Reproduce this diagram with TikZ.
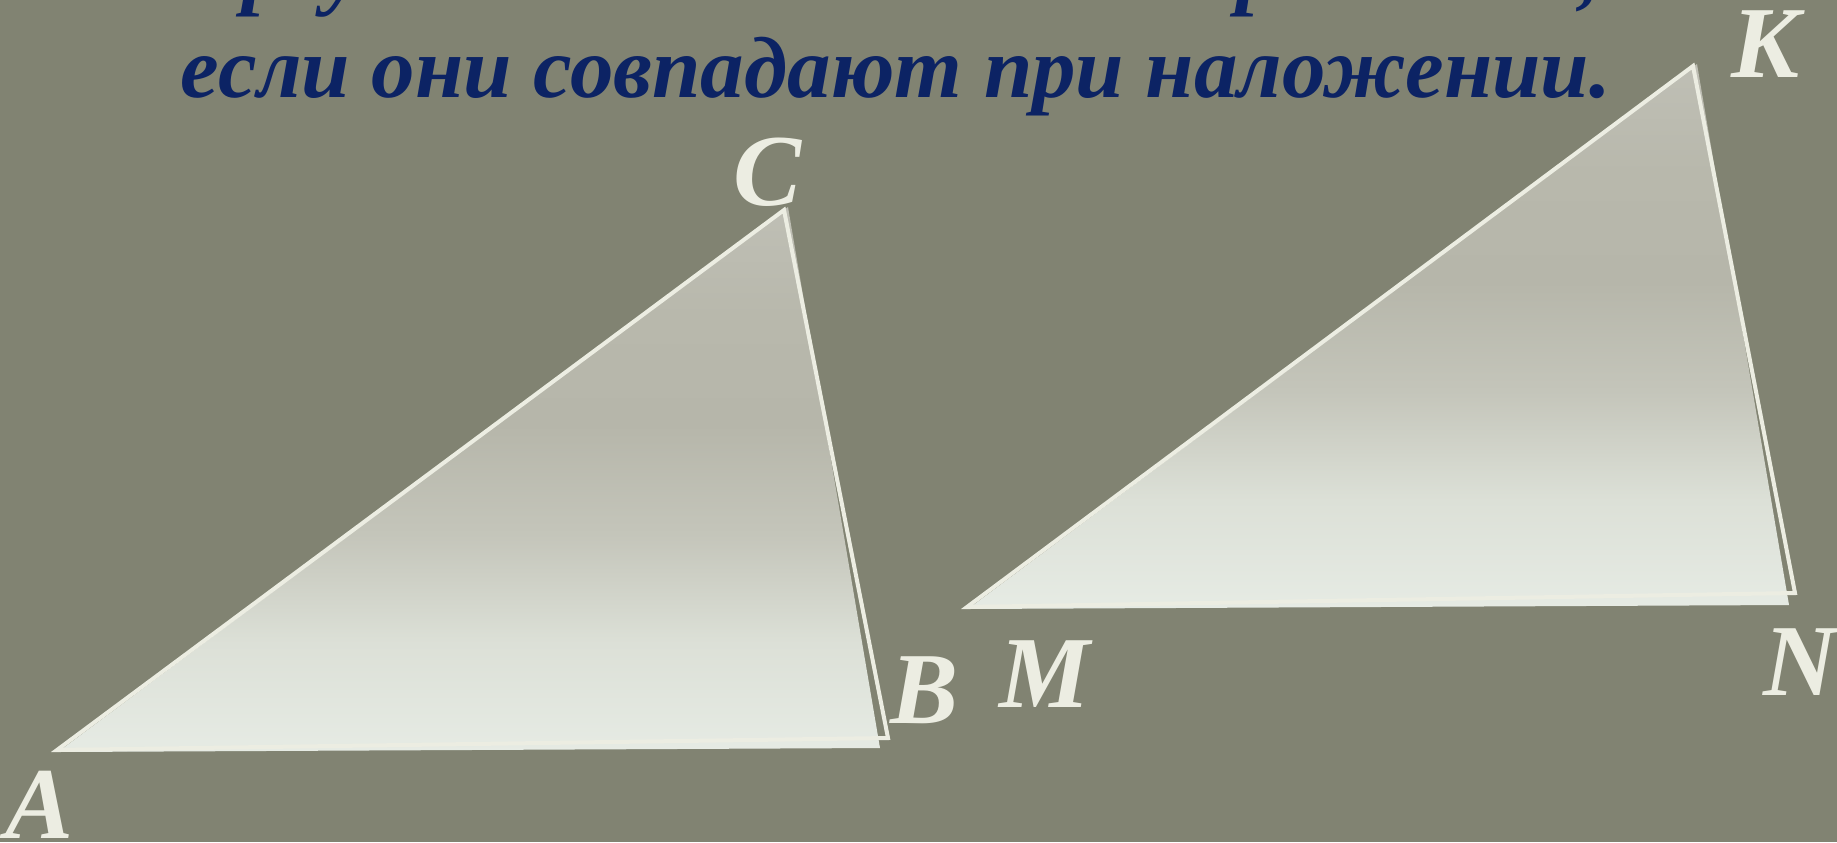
\documentclass[tikz,border=0pt]{standalone}
\usepackage{fontspec}
\setmainfont{Liberation Serif}[BoldItalicFont={Liberation Serif Bold Italic}]
\definecolor{bg}{RGB}{129,131,114}
\definecolor{navy}{RGB}{12,35,100}
\definecolor{chalk}{RGB}{236,237,226}
\definecolor{gA}{RGB}{230,235,228}
\definecolor{gB}{RGB}{220,224,215}
\definecolor{gC}{RGB}{196,197,186}
\definecolor{gD}{RGB}{182,182,170}
\definecolor{gE}{RGB}{184,184,172}
\definecolor{gF}{RGB}{191,191,181}
\pgfdeclareverticalshading{trishade}{100bp}{color(0bp)=(gA); color(25bp)=(gA); color(35bp)=(gB); color(45bp)=(gC); color(55bp)=(gD); color(65bp)=(gE); color(75bp)=(gF); color(100bp)=(gF)}
\begin{document}
\begin{tikzpicture}[x=0.5pt,y=-0.5pt,
  vlabel/.style={text=chalk, font=\fontsize{51}{60}\selectfont\bfseries\itshape, inner sep=0, anchor=base},
  title/.style={text=navy, font=\fontsize{43.5}{50}\selectfont\bfseries\itshape, inner sep=0, anchor=base},
  tri/.style={shading=trishade},
  rim/.style={draw=chalk, line width=2pt, line join=miter}]
\clip (0,0) rectangle (1837,842);
\fill[bg] (0,0) rectangle (1837,842);
% triangle ABC
\coordinate (Af) at (58,752);
\coordinate (Bf) at (880,748);
\coordinate (Cf) at (788,207);
\coordinate (Ao) at (57,750);
\coordinate (Bo) at (888,738);
\coordinate (Co) at (784,210);
\path[tri] (Af) -- (Bf) -- (Cf) -- cycle;
\draw[rim] (Ao) -- (Bo) -- (Co) -- cycle;
% triangle MNK
\coordinate (Mf) at (968,609);
\coordinate (Nf) at (1789,605);
\coordinate (Kf) at (1697,64);
\coordinate (Mo) at (967,607);
\coordinate (No) at (1795,593);
\coordinate (Ko) at (1693,66);
\path[tri] (Mf) -- (Nf) -- (Kf) -- cycle;
\draw[rim] (Mo) -- (No) -- (Ko) -- cycle;
% title
\node[title] (t1) at (896,-2) {Треугольники называются равными,};
\node[title] (t2) at (896,97) {если они совпадают при наложении.};
% vertex labels
\node[vlabel] (lA) at (40,838) {A};
\node[vlabel] (lB) at (925,723) {B};
\node[vlabel] (lC) at (768,205) {C};
\node[vlabel] (lM) at (1045,707) {M};
\node[vlabel] (lN) at (1800,695) {N};
\node[vlabel] (lK) at (1765,77) {K};
\end{tikzpicture}
\end{document}
